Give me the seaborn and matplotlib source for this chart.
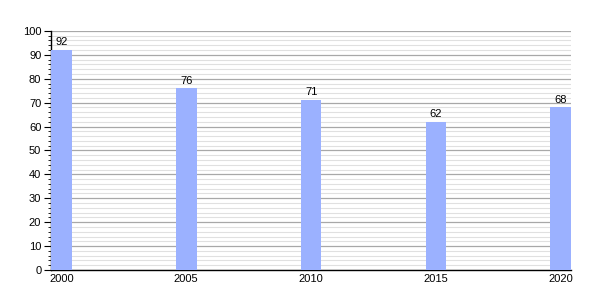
import matplotlib
matplotlib.use("Agg")
import matplotlib.pyplot as plt
import seaborn as sns
import pandas as pd
from matplotlib.ticker import MultipleLocator

years = ["2000", "2005", "2010", "2015", "2020"]
values = [92, 76, 71, 62, 68]

sns.set_style("white")
plt.rcParams['font.family'] = ['Liberation Sans', 'DejaVu Sans']
plt.rcParams['text.color'] = 'black'
plt.rcParams['xtick.color'] = 'black'
plt.rcParams['ytick.color'] = 'black'

df = pd.DataFrame({"year": years, "value": values})

fig = plt.figure(figsize=(6, 3), dpi=100)
ax = fig.add_axes([0.085, 0.1, 0.867, 0.797])

w = 0.166
sns.barplot(data=df, x="year", y="value", color="#9bb1ff", width=w,
            saturation=1, linewidth=0, edgecolor="none", ax=ax, zorder=3)

ax.set_xlim(-w / 2, len(years) - 1 + w / 2)
ax.set_ylim(0, 100)
ax.yaxis.set_major_locator(MultipleLocator(10))
ax.yaxis.set_minor_locator(MultipleLocator(2))
ax.grid(which="major", axis="y", color="#a8a8a8", linewidth=0.9, zorder=0)
ax.grid(which="minor", axis="y", color="#e0e0e0", linewidth=0.8, zorder=0)
ax.set_axisbelow(True)

for s in ["top", "right"]:
    ax.spines[s].set_visible(False)
for s in ["left", "bottom"]:
    ax.spines[s].set_color("black")
    ax.spines[s].set_linewidth(1)

ax.tick_params(axis="y", which="major", direction="out", length=5, width=0.8,
               labelsize=8, left=True, pad=2, colors="black")
ax.tick_params(axis="y", which="minor", direction="out", length=2.5, width=0.6,
               left=True, colors="black")
ax.tick_params(axis="x", which="both", length=0, labelsize=8, pad=3, colors="black")
ax.set_xlabel("")
ax.set_ylabel("")

for container in ax.containers:
    ax.bar_label(container, labels=[str(v) for v in values], padding=2,
                 fontsize=8, color="black")

fig.savefig("out.png", dpi=100)
